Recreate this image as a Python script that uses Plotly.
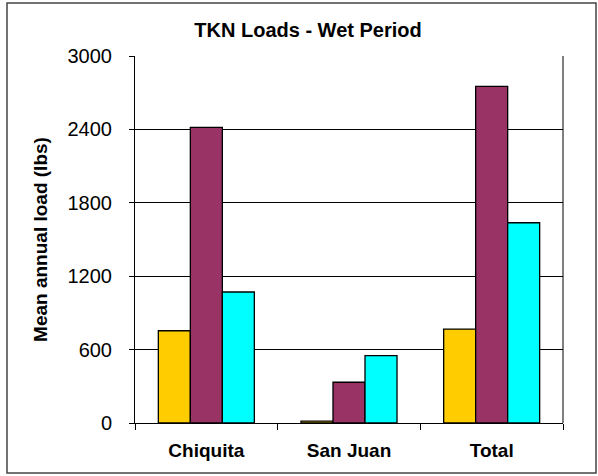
import plotly.graph_objects as go

sites = ["Chiquita", "San Juan", "Total"]
load_a = [754, 15, 768]
load_b = [2417, 333, 2752]
load_c = [1071, 550, 1637]

colors = ["#FFCC00", "#993366", "#00FFFF"]
font_family = "Arial, Liberation Sans, sans-serif"

fig = go.Figure()
for vals, col in zip([load_a, load_b, load_c], colors):
    fig.add_trace(go.Bar(x=sites, y=vals, marker=dict(color=col, line=dict(color="black", width=1.3))))

W, H = 598, 476
L, R, T, B = 135, 35, 56, 53
pw, ph = W - L - R, H - T - B

fig.update_layout(
    template="none",
    width=W, height=H,
    margin=dict(l=L, r=R, t=T, b=B, autoexpand=False),
    paper_bgcolor="white", plot_bgcolor="white",
    showlegend=False,
    barmode="group", bargap=0.327, bargroupgap=0,
    font=dict(family=font_family, size=20, color="black"),
    title=dict(text="<b>TKN Loads - Wet Period</b>", x=308 / W, xanchor="center",
               y=1 - 30 / H, yanchor="middle", font=dict(size=20)),
    xaxis=dict(showline=True, linecolor="black", linewidth=1, mirror=False, automargin=False,
               ticks="outside", ticklen=6, tickcolor="black", tickson="boundaries",
               showgrid=False, tickfont=dict(size=19), tickprefix="<b>", ticksuffix="</b>",
               ticklabelstandoff=10),
    yaxis=dict(range=[0, 3000], dtick=600, showline=True, linecolor="black", linewidth=1,
               automargin=False, ticks="outside", ticklen=5, tickcolor="black",
               showgrid=True, gridcolor="black", gridwidth=1, zeroline=False,
               tickfont=dict(size=20), ticklabelstandoff=13,
               title=dict(text="<b>Mean annual load (lbs)</b>", font=dict(size=19), standoff=14)),
    shapes=[
        dict(type="line", xref="paper", yref="paper", x0=1, x1=1, y0=0, y1=1,
             line=dict(color="black", width=1)),
        dict(type="rect", xref="paper", yref="paper",
             x0=(7 - L) / pw, x1=(596 - L) / pw,
             y0=(H - B - 473) / ph, y1=(H - B - 3) / ph,
             line=dict(color="#444444", width=1.5)),
    ],
)

fig.write_html("out.html", config={"displayModeBar": False},
               post_script="document.body.style.margin='0';")
